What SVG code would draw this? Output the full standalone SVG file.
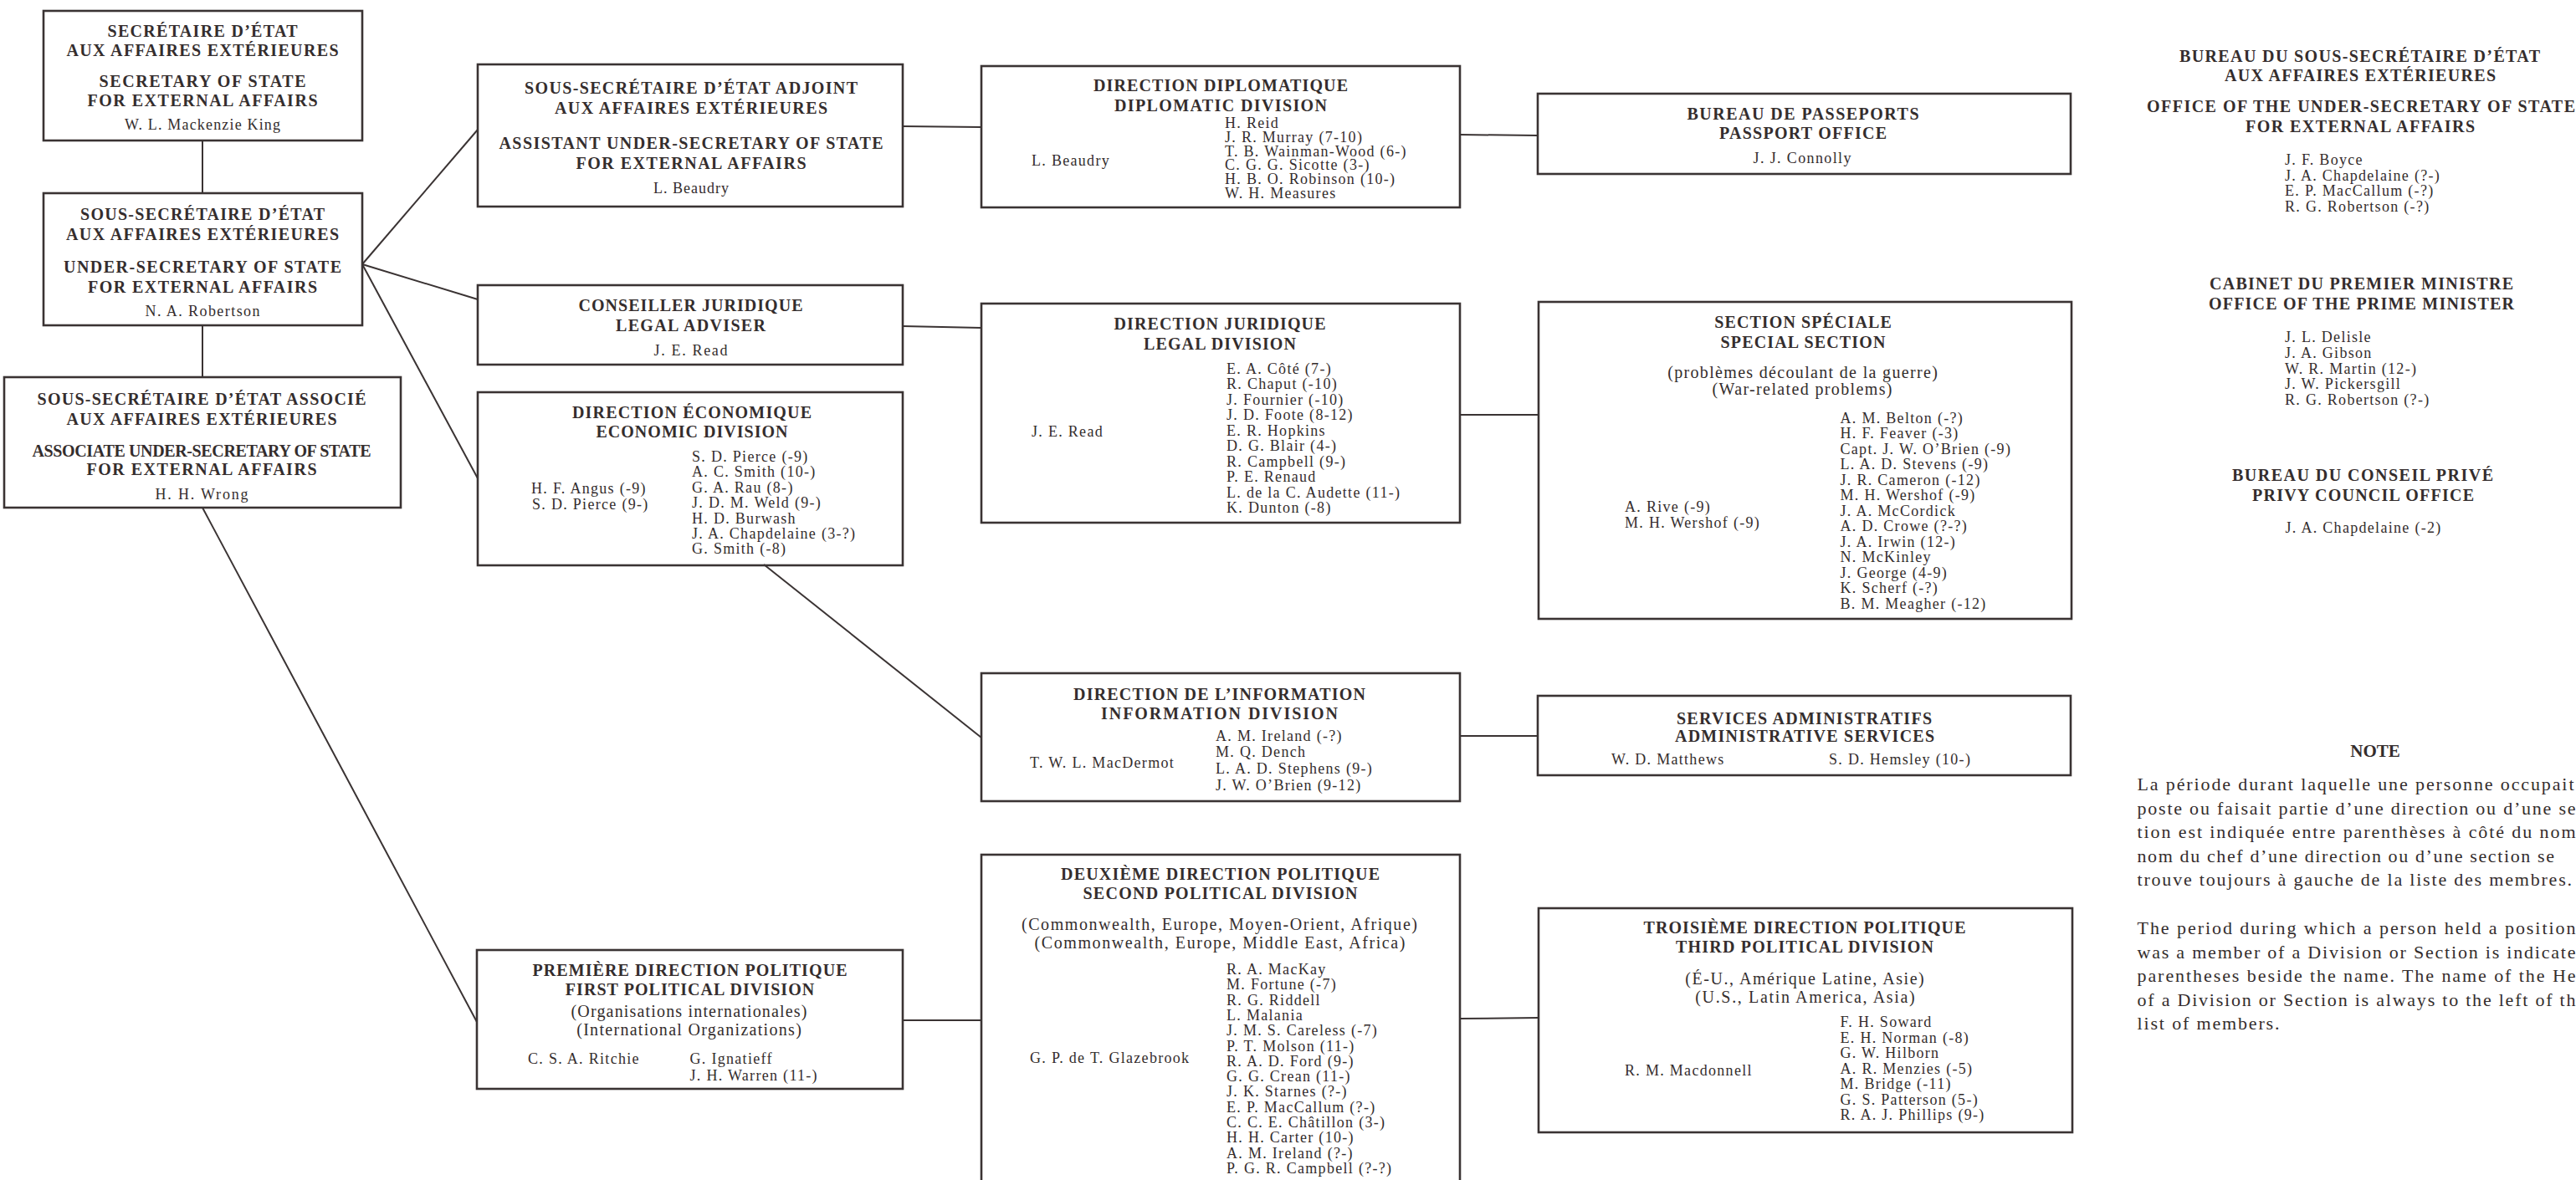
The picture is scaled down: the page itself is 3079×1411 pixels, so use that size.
<svg xmlns="http://www.w3.org/2000/svg" width="3079" height="1411" viewBox="0 0 3079 1411">
<style>
text{font-family:"Liberation Serif","Times New Roman",serif;fill:#342d2d}
.t{font-size:20px;font-weight:bold;text-anchor:middle}
.ti{font-size:20px;font-weight:bold;text-anchor:middle}
.s{font-size:20px;text-anchor:middle}
.n{font-size:18px;letter-spacing:1.3px}
.nm{font-size:18px;text-anchor:middle}
.note{font-size:22px}
.bx{fill:none;stroke:#3a3333;stroke-width:2.6}
.ln{fill:none;stroke:#3a3333;stroke-width:2}
</style>
<rect width="3079" height="1411" fill="#ffffff"/>

<g id="connectors">
<line class="ln" x1="242" y1="168" x2="242" y2="231"/>
<line class="ln" x1="242" y1="389" x2="242" y2="451"/>
<line class="ln" x1="433" y1="316" x2="571" y2="155"/>
<line class="ln" x1="433" y1="316" x2="571" y2="358"/>
<line class="ln" x1="433" y1="316" x2="571" y2="572"/>
<line class="ln" x1="242" y1="607" x2="570" y2="1222"/>
<line class="ln" x1="1079" y1="151" x2="1173" y2="152"/>
<line class="ln" x1="1079" y1="390" x2="1173" y2="392"/>
<line class="ln" x1="1745" y1="161" x2="1838" y2="162"/>
<line class="ln" x1="1745" y1="496" x2="1839" y2="496"/>
<line class="ln" x1="913" y1="675" x2="1173" y2="882"/>
<line class="ln" x1="1745" y1="880" x2="1838" y2="880"/>
<line class="ln" x1="1079" y1="1220" x2="1173" y2="1220"/>
<line class="ln" x1="1745" y1="1218" x2="1839" y2="1217"/>
</g>

<g id="secretary-of-state">
<rect class="bx" x="52" y="13" width="381" height="155"/>
<text class="t" x="242" y="43.5" textLength="227">SECRÉTAIRE D’ÉTAT</text>
<text class="t" x="242" y="67" textLength="325">AUX AFFAIRES EXTÉRIEURES</text>
<text class="t" x="242" y="103.5" textLength="247">SECRETARY OF STATE</text>
<text class="t" x="242" y="127" textLength="275">FOR EXTERNAL AFFAIRS</text>
<text class="nm" x="242" y="155" textLength="186">W. L. Mackenzie King</text>
</g>

<g id="under-secretary">
<rect class="bx" x="52" y="231" width="381" height="158"/>
<text class="t" x="242" y="263" textLength="292">SOUS-SECRÉTAIRE D’ÉTAT</text>
<text class="t" x="242" y="286.7" textLength="326">AUX AFFAIRES EXTÉRIEURES</text>
<text class="t" x="242" y="326" textLength="332">UNDER-SECRETARY OF STATE</text>
<text class="t" x="242" y="350" textLength="274">FOR EXTERNAL AFFAIRS</text>
<text class="nm" x="242" y="377.6" textLength="137">N. A. Robertson</text>
</g>

<g id="associate-under-secretary">
<rect class="bx" x="5" y="451" width="474" height="156"/>
<text class="t" x="241" y="484" textLength="393">SOUS-SECRÉTAIRE D’ÉTAT ASSOCIÉ</text>
<text class="t" x="241" y="508" textLength="323">AUX AFFAIRES EXTÉRIEURES</text>
<text class="t" x="241" y="545.7" textLength="405">ASSOCIATE UNDER-SECRETARY OF STATE</text>
<text class="t" x="241" y="568" textLength="275">FOR EXTERNAL AFFAIRS</text>
<text class="nm" x="241" y="597" textLength="111">H. H. Wrong</text>
</g>

<g id="assistant-under-secretary">
<rect class="bx" x="571" y="77" width="508" height="170"/>
<text class="t" x="826" y="112" textLength="398">SOUS-SECRÉTAIRE D’ÉTAT ADJOINT</text>
<text class="t" x="826" y="136" textLength="326">AUX AFFAIRES EXTÉRIEURES</text>
<text class="t" x="826" y="178" textLength="459">ASSISTANT UNDER-SECRETARY OF STATE</text>
<text class="t" x="826" y="201.6" textLength="275">FOR EXTERNAL AFFAIRS</text>
<text class="nm" x="826" y="231" textLength="90">L. Beaudry</text>
</g>

<g id="legal-adviser">
<rect class="bx" x="571" y="341" width="508" height="95"/>
<text class="t" x="825.5" y="372" textLength="268">CONSEILLER JURIDIQUE</text>
<text class="t" x="825.5" y="396" textLength="179">LEGAL ADVISER</text>
<text class="nm" x="825.5" y="424.6" textLength="88">J. E. Read</text>
</g>

<g id="economic-division">
<rect class="bx" x="571" y="469" width="508" height="207"/>
<text class="t" x="827" y="499.7" textLength="286">DIRECTION ÉCONOMIQUE</text>
<text class="t" x="827" y="523.4" textLength="229">ECONOMIC DIVISION</text>
<text class="n" x="635" y="590">H. F. Angus (-9)</text>
<text class="n" x="636" y="609">S. D. Pierce (9-)</text>
<text class="n"><tspan x="827" y="552">S. D. Pierce (-9)</tspan><tspan x="827" y="570.4">A. C. Smith (10-)</tspan><tspan x="827" y="588.8">G. A. Rau (8-)</tspan><tspan x="827" y="607.2">J. D. M. Weld (9-)</tspan><tspan x="827" y="625.6">H. D. Burwash</tspan><tspan x="827" y="644">J. A. Chapdelaine (3-?)</tspan><tspan x="827" y="662.4">G. Smith (-8)</tspan></text>
</g>

<g id="first-political-division">
<rect class="bx" x="570" y="1136" width="509" height="166"/>
<text class="t" x="824.5" y="1166.7" textLength="376">PREMIÈRE DIRECTION POLITIQUE</text>
<text class="t" x="824.5" y="1190" textLength="297.5">FIRST POLITICAL DIVISION</text>
<text class="s" x="823.5" y="1216" textLength="282">(Organisations internationales)</text>
<text class="s" x="823.5" y="1238.3" textLength="268.6">(International Organizations)</text>
<text class="n" x="631" y="1271.7">C. S. A. Ritchie</text>
<text class="n"><tspan x="824.5" y="1271.7">G. Ignatieff</tspan><tspan x="824.5" y="1291.7">J. H. Warren (11-)</tspan></text>
</g>

<g id="diplomatic-division">
<rect class="bx" x="1173" y="79" width="572" height="169"/>
<text class="t" x="1459" y="109" textLength="304">DIRECTION DIPLOMATIQUE</text>
<text class="t" x="1459" y="133" textLength="254">DIPLOMATIC DIVISION</text>
<text class="n" x="1233" y="198">L. Beaudry</text>
<text class="n"><tspan x="1464" y="153">H. Reid</tspan><tspan x="1464" y="170">J. R. Murray (7-10)</tspan><tspan x="1464" y="187">T. B. Wainman-Wood (6-)</tspan><tspan x="1464" y="203">C. G. G. Sicotte (3-)</tspan><tspan x="1464" y="220">H. B. O. Robinson (10-)</tspan><tspan x="1464" y="237">W. H. Measures</tspan></text>
</g>

<g id="legal-division">
<rect class="bx" x="1173" y="363" width="572" height="262"/>
<text class="t" x="1458" y="394" textLength="253">DIRECTION JURIDIQUE</text>
<text class="t" x="1458" y="418" textLength="182">LEGAL DIVISION</text>
<text class="n" x="1233" y="522">J. E. Read</text>
<text class="n"><tspan x="1466" y="447">E. A. Côté (7-)</tspan><tspan x="1466" y="465.4">R. Chaput (-10)</tspan><tspan x="1466" y="483.9">J. Fournier (-10)</tspan><tspan x="1466" y="502.3">J. D. Foote (8-12)</tspan><tspan x="1466" y="520.8">E. R. Hopkins</tspan><tspan x="1466" y="539.2">D. G. Blair (4-)</tspan><tspan x="1466" y="557.6">R. Campbell (9-)</tspan><tspan x="1466" y="576.1">P. E. Renaud</tspan><tspan x="1466" y="594.5">L. de la C. Audette (11-)</tspan><tspan x="1466" y="613">K. Dunton (-8)</tspan></text>
</g>

<g id="information-division">
<rect class="bx" x="1173" y="805" width="572" height="153"/>
<text class="ti" x="1457.5" y="837" textLength="349">DIRECTION DE L’INFORMATION</text>
<text class="ti" x="1457.5" y="860" textLength="283">INFORMATION DIVISION</text>
<text class="n" x="1231" y="918">T. W. L. MacDermot</text>
<text class="n"><tspan x="1453" y="886">A. M. Ireland (-?)</tspan><tspan x="1453" y="905">M. Q. Dench</tspan><tspan x="1453" y="925">L. A. D. Stephens (9-)</tspan><tspan x="1453" y="945">J. W. O’Brien (9-12)</tspan></text>
</g>

<g id="second-political-division">
<rect class="bx" x="1173" y="1022" width="572" height="400"/>
<text class="t" x="1458.5" y="1051.7" textLength="381">DEUXIÈME DIRECTION POLITIQUE</text>
<text class="t" x="1458.5" y="1075" textLength="328">SECOND POLITICAL DIVISION</text>
<text class="s" x="1457.5" y="1111.7" textLength="473">(Commonwealth, Europe, Moyen-Orient, Afrique)</text>
<text class="s" x="1458" y="1134" textLength="443">(Commonwealth, Europe, Middle East, Africa)</text>
<text class="n" x="1231" y="1270.7">G. P. de T. Glazebrook</text>
<text class="n"><tspan x="1466" y="1165">R. A. MacKay</tspan><tspan x="1466" y="1183.3">M. Fortune (-7)</tspan><tspan x="1466" y="1201.6">R. G. Riddell</tspan><tspan x="1466" y="1219.9">L. Malania</tspan><tspan x="1466" y="1238.2">J. M. S. Careless (-7)</tspan><tspan x="1466" y="1256.5">P. T. Molson (11-)</tspan><tspan x="1466" y="1274.8">R. A. D. Ford (9-)</tspan><tspan x="1466" y="1293.1">G. G. Crean (11-)</tspan><tspan x="1466" y="1311.4">J. K. Starnes (?-)</tspan><tspan x="1466" y="1330">E. P. MacCallum (?-)</tspan><tspan x="1466" y="1348">C. C. E. Châtillon (3-)</tspan><tspan x="1466" y="1366.3">H. H. Carter (10-)</tspan><tspan x="1466" y="1384.6">A. M. Ireland (?-)</tspan><tspan x="1466" y="1403">P. G. R. Campbell (?-?)</tspan></text>
</g>

<g id="passport-office">
<rect class="bx" x="1838" y="112" width="637" height="96"/>
<text class="t" x="2155" y="142.7" textLength="277">BUREAU DE PASSEPORTS</text>
<text class="t" x="2155" y="166.3" textLength="200">PASSPORT OFFICE</text>
<text class="nm" x="2154" y="194.5" textLength="117">J. J. Connolly</text>
</g>

<g id="special-section">
<rect class="bx" x="1839" y="361" width="637" height="379"/>
<text class="t" x="2155" y="392.3" textLength="211.5">SECTION SPÉCIALE</text>
<text class="t" x="2155" y="416.3" textLength="197">SPECIAL SECTION</text>
<text class="s" x="2154.5" y="452.4" textLength="322.6">(problèmes découlant de la guerre)</text>
<text class="s" x="2154" y="472.3" textLength="215">(War-related problems)</text>
<text class="n"><tspan x="1942" y="612">A. Rive (-9)</tspan><tspan x="1942" y="630.7">M. H. Wershof (-9)</tspan></text>
<text class="n"><tspan x="2199.5" y="505.5">A. M. Belton (-?)</tspan><tspan x="2199.5" y="524">H. F. Feaver (-3)</tspan><tspan x="2199.5" y="542.6">Capt. J. W. O’Brien (-9)</tspan><tspan x="2199.5" y="561.1">L. A. D. Stevens (-9)</tspan><tspan x="2199.5" y="579.7">J. R. Cameron (-12)</tspan><tspan x="2199.5" y="598.2">M. H. Wershof (-9)</tspan><tspan x="2199.5" y="616.7">J. A. McCordick</tspan><tspan x="2199.5" y="635.3">A. D. Crowe (?-?)</tspan><tspan x="2199.5" y="653.8">J. A. Irwin (12-)</tspan><tspan x="2199.5" y="672.4">N. McKinley</tspan><tspan x="2199.5" y="690.9">J. George (4-9)</tspan><tspan x="2199.5" y="709.4">K. Scherf (-?)</tspan><tspan x="2199.5" y="728">B. M. Meagher (-12)</tspan></text>
</g>

<g id="administrative-services">
<rect class="bx" x="1838" y="832" width="637" height="95"/>
<text class="ti" x="2156.5" y="866" textLength="305">SERVICES ADMINISTRATIFS</text>
<text class="ti" x="2157" y="887" textLength="310">ADMINISTRATIVE SERVICES</text>
<text class="n" x="1926" y="914">W. D. Matthews</text>
<text class="n" x="2186" y="914">S. D. Hemsley (10-)</text>
</g>

<g id="third-political-division">
<rect class="bx" x="1839" y="1086" width="638" height="268"/>
<text class="t" x="2157" y="1116" textLength="385">TROISIÈME DIRECTION POLITIQUE</text>
<text class="t" x="2157" y="1139.3" textLength="308">THIRD POLITICAL DIVISION</text>
<text class="s" x="2157" y="1176.7" textLength="285.5">(É-U., Amérique Latine, Asie)</text>
<text class="s" x="2157.5" y="1199.3" textLength="262.4">(U.S., Latin America, Asia)</text>
<text class="n" x="1942" y="1286">R. M. Macdonnell</text>
<text class="n"><tspan x="2199.5" y="1228.3">F. H. Soward</tspan><tspan x="2199.5" y="1246.8">E. H. Norman (-8)</tspan><tspan x="2199.5" y="1265.3">G. W. Hilborn</tspan><tspan x="2199.5" y="1283.8">A. R. Menzies (-5)</tspan><tspan x="2199.5" y="1302.3">M. Bridge (-11)</tspan><tspan x="2199.5" y="1320.8">G. S. Patterson (5-)</tspan><tspan x="2199.5" y="1339.3">R. A. J. Phillips (9-)</tspan></text>
</g>

<g id="office-under-secretary">
<text class="t" x="2820.5" y="73.5" textLength="431">BUREAU DU SOUS-SECRÉTAIRE D’ÉTAT</text>
<text class="t" x="2821" y="97" textLength="324">AUX AFFAIRES EXTÉRIEURES</text>
<text class="t" x="2822" y="134" textLength="512">OFFICE OF THE UNDER-SECRETARY OF STATE</text>
<text class="t" x="2821" y="157.6" textLength="274">FOR EXTERNAL AFFAIRS</text>
<text class="n"><tspan x="2731" y="197">J. F. Boyce</tspan><tspan x="2731" y="215.5">J. A. Chapdelaine (?-)</tspan><tspan x="2731" y="234">E. P. MacCallum (-?)</tspan><tspan x="2731" y="252.5">R. G. Robertson (-?)</tspan></text>
</g>

<g id="office-prime-minister">
<text class="t" x="2822.5" y="346" textLength="363">CABINET DU PREMIER MINISTRE</text>
<text class="t" x="2822.5" y="369.8" textLength="365">OFFICE OF THE PRIME MINISTER</text>
<text class="n"><tspan x="2731" y="409.4">J. L. Delisle</tspan><tspan x="2731" y="428">J. A. Gibson</tspan><tspan x="2731" y="446.6">W. R. Martin (12-)</tspan><tspan x="2731" y="465.2">J. W. Pickersgill</tspan><tspan x="2731" y="484">R. G. Robertson (?-)</tspan></text>
</g>

<g id="privy-council-office">
<text class="t" x="2824" y="574.7" textLength="312">BUREAU DU CONSEIL PRIVÉ</text>
<text class="t" x="2824.5" y="599" textLength="265">PRIVY COUNCIL OFFICE</text>
<text class="n" x="2731.5" y="636.7">J. A. Chapdelaine (-2)</text>
</g>

<g id="note">
<text x="2839" y="905" style="font-size:21px;font-weight:bold;text-anchor:middle">NOTE</text>
<text class="note" x="2554.5" y="945" textLength="522">La période durant laquelle une personne occupait</text>
<text class="note" x="2554.5" y="974" textLength="524">poste ou faisait partie d’une direction ou d’une se</text>
<text class="note" x="2554.5" y="1002" textLength="524">tion est indiquée entre parenthèses à côté du nom</text>
<text class="note" x="2554.5" y="1031" textLength="498.5">nom du chef d’une direction ou d’une section se</text>
<text class="note" x="2554.5" y="1059" textLength="519.5">trouve toujours à gauche de la liste des membres.</text>
<text class="note" x="2554.5" y="1117" textLength="524">The period during which a person held a position</text>
<text class="note" x="2554.5" y="1146" textLength="524">was a member of a Division or Section is indicate</text>
<text class="note" x="2554.5" y="1174" textLength="524">parentheses beside the name. The name of the He</text>
<text class="note" x="2554.5" y="1203" textLength="524">of a Division or Section is always to the left of th</text>
<text class="note" x="2554.5" y="1231" textLength="170">list of members.</text>
</g>
</svg>
